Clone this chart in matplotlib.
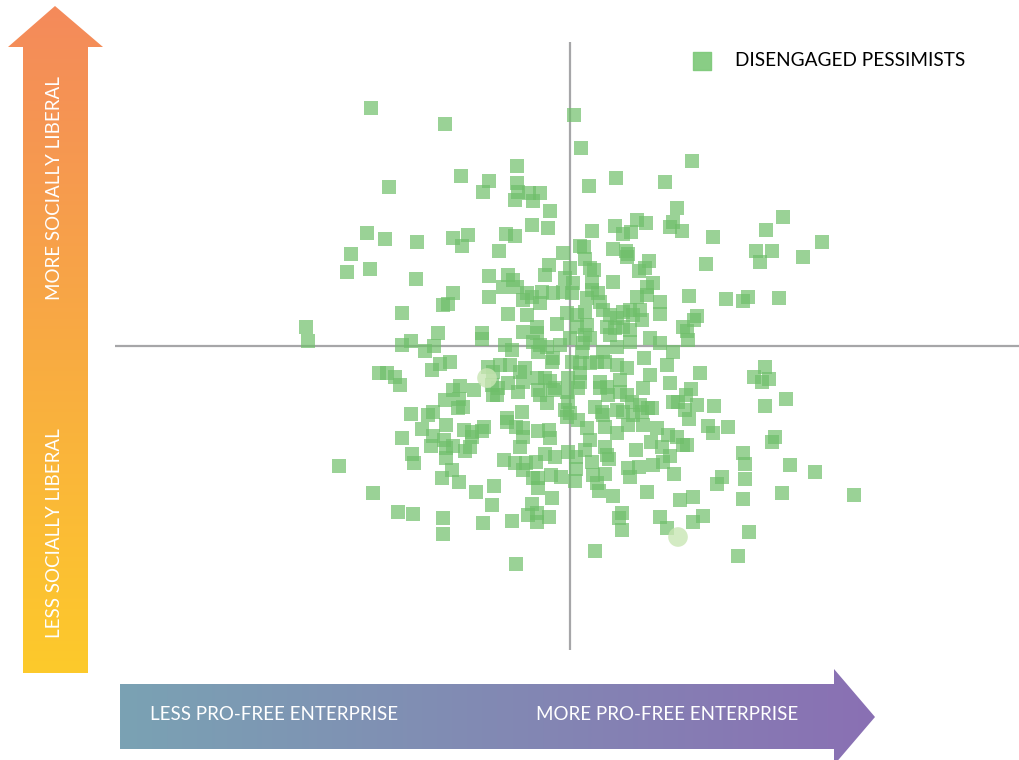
import numpy as np
import matplotlib
matplotlib.use("Agg")
import matplotlib.pyplot as plt
from matplotlib.patches import Polygon
from matplotlib.colors import LinearSegmentedColormap

plt.rcParams['font.family'] = ['Lato', 'DejaVu Sans']

# scores: x = pro-free enterprise, y = socially liberal (0 = crosshair)
x_vals = [-199, -125, -109, -81, -87, -181, -203, -185, -153, -219, -117, -102, -108, 4, 11, -53,
          -53, -52, -55, -41, -30, -37, -20, 19, 46, 95, 107, -38, -64, -55, -22, -71,
          -7, 22, 45, 53, 61, 67, 76, 100, 103, 112, 10, 14, 43, 56, 58, 79,
          15, 122, 213, 196, 143, 252, 186, 202, 233, 136, 190, 119, 156, 178, 173, 209,
          127, 124, 113, 117, 118, 130, 195, 184, 192, 199, 121, 116, 127, 144, 115, 195,
          216, 119, -223, -200, -154, -81, -81, -117, -122, -127, -168, -264, -262, -132, -159, -168,
          -145, -136, -88, -88, -120, -130, -138, -82, -191, -183, -175, -170, -110, -117, -96, -125,
          -111, -112, -107, -159, -142, -137, -78, -77, -124, -148, -168, -137, -139, -126, -124, -117,
          -106, -98, -98, -86, -88, -100, -105, -124, -158, -156, -118, -128, -111, -231, -197, -94,
          -76, -172, -157, -127, -127, -87, -78, -63, -54, -47, -47, -32, -21, -20, -50, -66,
          -55, -44, -47, -34, -25, -15, -2, 6, 15, 6, 5, 22, 23, 27, 29, 35,
          37, 39, 43, 58, 60, 69, 83, 93, 100, 104, 77, 66, 92, 81, -37, -32,
          -32, -19, -9, -18, -38, -42, -33, -33, -21, -58, 52, 49, 52, 25, -54, 90,
          97, 110, -3, 8, 17, 20, 35, 35, 47, 58, 73, 87, 98, 107, 113, 138,
          143, 158, 117, 205, 202, 173, 175, 220, 245, 152, 147, 175, 123, 173, 212, 284,
          133, 123, 179, 168, 20, 24, 57, 75, 69, -21, -25, 0, -5, -62, -57, -53,
          -67, 43, 22, 22, 3, -7, -17, -28, -43, -38, -47, -30, 2, 17, 28, 30,
          77, 77, 83, 67, 90, -62, -43, -3, 7, 15, 33, 40, 47, 53, 60, 63,
          70, 72, 90, -33, -33, -13, -47, 7, 17, 15, 20, 37, 45, 53, 60, 40,
          80, 0, -65, -58, -37, -30, -23, -10, -32, 13, 12, 33, 47, 60, 90, 103,
          -17, -18, 2, 10, 20, 27, 35, 47, 57, 74, 97, -70, -60, -50, -45, -33,
          -25, -20, -15, -2, 10, 10, 30, 37, 50, 80, 73, 100, -47, -62, -72, -73,
          -52, -32, -30, -17, -3, -2, 8, 30, 38, 50, 57, 62, 70, 78, 72, 103,
          108, -48, -23, -5, 0, 25, 32, 47, 53, 63, 82, -77, 33, -63]
y_vals = [238, 222, 170, 165, 154, 159, 113, 107, 104, 92, 108, 111, 100, 231, 198, 180,
          163, 154, 146, 153, 153, 145, 135, 160, 168, 164, 138, 121, 112, 110, 118, 95,
          93, 115, 120, 112, 114, 126, 123, 119, 124, 115, 100, 99, 97, 95, 92, 85,
          87, 185, 129, 116, 109, 104, 95, 95, 89, 82, 84, 50, 47, 49, 45, 48,
          30, 26, 19, 15, 6, -27, -21, -31, -36, -33, -43, -49, -59, -60, -64, -60,
          -53, -73, 74, 77, 67, 70, 49, 53, 42, 41, 33, 19, 5, 13, 5, 1,
          -5, 0, 13, 7, -16, -18, -24, -21, -27, -27, -31, -39, -40, -44, -44, -54,
          -53, -62, -61, -68, -69, -66, -39, -49, -79, -83, -92, -90, -100, -94, -102, -100,
          -84, -86, -91, -81, -85, -101, -105, -112, -108, -117, -124, -132, -136, -120, -147, -146,
          -140, -166, -168, -172, -188, -177, -159, -76, -81, -82, -91, -85, -84, -92, -101, -114,
          -117, -117, -124, -116, -108, -111, -106, -111, -104, -123, -135, -116, -129, -137, -145, -128,
          -109, -113, -150, -122, -131, -121, -119, -116, -110, -128, -146, -104, -101, -96, -132, -132,
          -142, -129, -131, -152, -158, -169, -167, -176, -171, -175, -167, -172, -184, -205, -218, -171,
          -182, -154, -71, -74, -82, -94, -81, -101, -87, -79, -79, -82, -89, -91, -99, -80,
          -87, -81, -99, -91, -96, -107, -118, -119, -126, -131, -138, -133, -151, -153, -147, -149,
          -170, -176, -186, -210, 78, 76, 89, 78, 75, 81, 71, 78, 68, 71, 66, 59,
          59, 64, 64, 56, 63, 54, 53, 54, 53, 49, 46, 43, 53, 48, 53, 44,
          59, 51, 63, 49, 44, 32, 31, 33, 31, 34, 36, 31, 28, 34, 36, 31,
          36, 26, 32, 19, 13, 22, 14, 19, 21, 11, 8, 19, 18, 19, 16, 11,
          8, 8, 1, -4, 4, 1, -1, 1, -6, 3, -6, -6, -1, 4, 3, -6,
          -12, -16, -16, -17, -17, -16, -16, -19, -22, -12, -19, -19, -19, -26, -22, -32,
          -32, -35, -42, -32, -27, -36, -36, -41, -34, -29, -42, -37, -36, -37, -42, -49,
          -46, -44, -49, -44, -46, -56, -42, -42, -49, -46, -49, -56, -59, -62, -66, -56,
          -56, -66, -57, -64, -67, -61, -66, -64, -66, -69, -62, -26, -69, -72]

# two faded round markers
faded_x = [-83, 108]
faded_y = [-32, -191]

series_label = "DISENGAGED PESSIMISTS"
y_labels = ["MORE SOCIALLY LIBERAL", "LESS SOCIALLY LIBERAL"]
x_labels = ["LESS PRO-FREE ENTERPRISE", "MORE PRO-FREE ENTERPRISE"]

fig = plt.figure(figsize=(10.19, 7.6), dpi=100)

# background layer in pixel units for the gradient arrows
bg = fig.add_axes([0, 0, 1, 1])
bg.set_xlim(0, 1019)
bg.set_ylim(760, 0)
bg.axis('off')


def grad_arrow(ax, verts, c0, c1, vertical):
    poly = Polygon(verts, closed=True, facecolor='none', edgecolor='none')
    ax.add_patch(poly)
    xs = [v[0] for v in verts]
    ys = [v[1] for v in verts]
    cmap = LinearSegmentedColormap.from_list('g', [c0, c1])
    g = np.linspace(0, 1, 256)
    img = g.reshape(-1, 1) if vertical else g.reshape(1, -1)
    im = ax.imshow(img, cmap=cmap, extent=(min(xs), max(xs), max(ys), min(ys)),
                   aspect='auto', interpolation='bilinear')
    im.set_clip_path(poly)


grad_arrow(bg, [(23, 673), (23, 47), (8, 47), (55, 6), (103, 47), (88, 47), (88, 673)],
           '#f48a5b', '#fdca2b', True)
grad_arrow(bg, [(120, 684), (834, 684), (834, 669), (875, 717), (834, 765), (834, 749), (120, 749)],
           '#7aa2b4', '#8a70b3', False)

bg.text(55, 188, y_labels[0], rotation=90, color='white', fontsize=13.5,
        ha='center', va='center')
bg.text(55, 533, y_labels[1], rotation=90, color='white', fontsize=13.5,
        ha='center', va='center')
bg.text(274, 715, x_labels[0], color='white', fontsize=13.5, ha='center', va='center')
bg.text(667, 715, x_labels[1], color='white', fontsize=13.5, ha='center', va='center')

# scatter layer
ax = fig.add_axes([0, 0, 1, 1])
ax.patch.set_alpha(0)
ax.set_xlim(-570, 449)
ax.set_ylim(-414, 346)
ax.axis('off')

ax.vlines(0, -304, 304, color='#a6a6a8', lw=1.6, zorder=1)
ax.hlines(0, -455, 449, color='#a6a6a8', lw=1.6, zorder=1)

sc = ax.scatter(x_vals, y_vals, marker='s', s=90, color='#6fbf6a', alpha=0.7,
                edgecolors='none', zorder=2, label=series_label)
ax.scatter(faded_x, faded_y, marker='o', s=200, color='#c9e6b4', alpha=0.8,
           edgecolors='none', zorder=2)

leg = ax.legend(handles=[sc], loc='center left', bbox_to_anchor=(692 / 1019, 1 - 60 / 760),
                frameon=False, fontsize=13.7, handlelength=1.0, handletextpad=1.25,
                borderpad=0, borderaxespad=0, markerscale=1.3)
for h in leg.legend_handles:
    h.set_alpha(0.9)
    h.set_color('#7cc878')

fig.savefig('out.png', dpi=100)
